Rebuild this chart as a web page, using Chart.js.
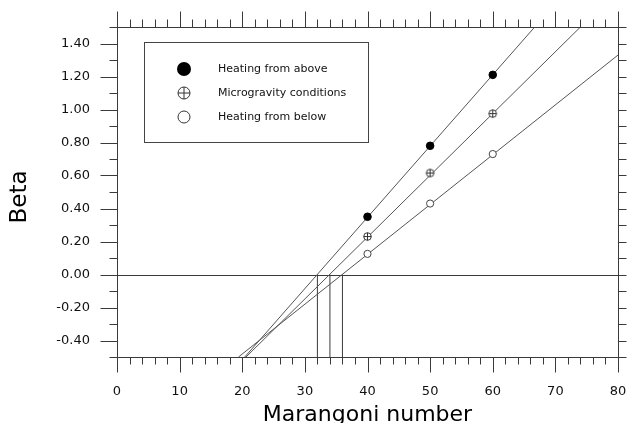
<!DOCTYPE html>
<html>
<head>
<meta charset="utf-8">
<script src="https://cdn.jsdelivr.net/npm/chart.js@4.4.0/dist/chart.umd.min.js"></script>
<style>
  html, body { margin: 0; padding: 0; background: #fff; }
</style>
</head>
<body>
<canvas id="betaChart" width="628" height="423"></canvas>
<script>
// --- data ---
const seriesNames = ['Heating from above', 'Microgravity conditions', 'Heating from below'];
const marangoni = [40, 50, 60];
const betaAbove = [0.35, 0.78, 1.21];
const betaMicro = [0.23, 0.615, 0.975];
const betaBelow = [0.125, 0.43, 0.73];

// straight-line fits, ends taken where they meet the frame
const fitAboveX = [20.4, 66.7];
const fitAboveY = [-0.5, 1.5];
const fitMicroX = [20.6, 74.0];
const fitMicroY = [-0.5, 1.5];
const fitBelowX = [19.4, 80];
const fitBelowY = [-0.5, 1.33];

// critical Marangoni numbers (beta = 0), dropped to the axis
const onsetX = [32, 34, 36];

const xTicks = [0, 10, 20, 30, 40, 50, 60, 70, 80];
const yTicks = [-0.4, -0.2, 0, 0.2, 0.4, 0.6, 0.8, 1.0, 1.2, 1.4];

const FONT = 'DejaVu Sans';
const INK = '#3a3a3a';
const LINE = '#555';

// point style: circle with a cross through it
function crossedCircle(r) {
  const c = document.createElement('canvas');
  const s = Math.ceil(r * 2 + 3);
  c.width = s; c.height = s;
  const g = c.getContext('2d');
  const m = s / 2;
  g.strokeStyle = '#333';
  g.lineWidth = 1;
  g.fillStyle = '#fff';
  g.beginPath(); g.arc(m, m, r, 0, Math.PI * 2); g.fill(); g.stroke();
  g.beginPath();
  g.moveTo(m - r, m); g.lineTo(m + r, m);
  g.moveTo(m, m - r); g.lineTo(m, m + r);
  g.stroke();
  return c;
}

const pts = (xs, ys) => xs.map((x, i) => ({ x: x, y: ys[i] }));

const markerStyles = [
  { pointStyle: 'circle', pointRadius: 3.8, pointBackgroundColor: '#000', pointBorderColor: '#000' },
  { pointStyle: crossedCircle(3.8), pointRadius: 4, pointBackgroundColor: '#fff', pointBorderColor: '#333' },
  { pointStyle: 'circle', pointRadius: 3.6, pointBackgroundColor: '#fff', pointBorderColor: '#444' }
];

const fitLine = (xs, ys) => ({
  data: pts(xs, ys),
  showLine: true,
  borderColor: LINE,
  borderWidth: 1,
  pointRadius: 0,
  order: 2
});

const datasets = [
  fitLine(fitAboveX, fitAboveY),
  fitLine(fitMicroX, fitMicroY),
  fitLine(fitBelowX, fitBelowY)
];
onsetX.forEach(x => {
  datasets.push({
    data: [{ x: x, y: -0.5 }, { x: x, y: 0 }],
    showLine: true,
    borderColor: INK,
    borderWidth: 1,
    pointRadius: 0,
    order: 2
  });
});
[betaAbove, betaMicro, betaBelow].forEach((ys, i) => {
  datasets.push(Object.assign({
    label: seriesNames[i],
    data: pts(marangoni, ys),
    showLine: false,
    pointBorderWidth: 1,
    order: 1
  }, markerStyles[i]));
});

// frame, tick marks, zero line, legend and axis titles
const framePlugin = {
  id: 'frame',
  beforeDatasetsDraw(chart) {
    const { ctx, chartArea: a, scales } = chart;
    const y0 = Math.round(scales.y.getPixelForValue(0)) + 0.5;
    ctx.save();
    ctx.strokeStyle = INK;
    ctx.lineWidth = 1;
    ctx.beginPath();
    ctx.moveTo(a.left, y0); ctx.lineTo(a.right + 8, y0);
    ctx.stroke();
    ctx.restore();
  },
  afterDraw(chart) {
    const { ctx, chartArea: a, scales } = chart;
    const L = Math.round(a.left) + 0.5, R = Math.round(a.right) + 0.5;
    const T = Math.round(a.top) + 0.5, B = Math.round(a.bottom) + 0.5;
    ctx.save();
    ctx.strokeStyle = INK;
    ctx.lineWidth = 1;
    ctx.beginPath();
    ctx.moveTo(L, T); ctx.lineTo(R, T); ctx.lineTo(R, B); ctx.lineTo(L, B); ctx.closePath();
    // x ticks, bottom (down) and top (up)
    for (let k = 0; k <= 40; k++) {
      const px = Math.round(scales.x.getPixelForValue(k * 2)) + 0.5;
      const major = k % 5 === 0;
      ctx.moveTo(px, B); ctx.lineTo(px, B + (major ? 15 : 7));
      ctx.moveTo(px, T); ctx.lineTo(px, T - (major ? 16 : 8));
    }
    // y ticks, left (out) and right (out)
    for (let k = -5; k <= 15; k++) {
      const py = Math.round(scales.y.getPixelForValue(k / 10)) + 0.5;
      const major = k % 2 === 0;
      ctx.moveTo(L, py); ctx.lineTo(L - (major ? 17 : 8), py);
      ctx.moveTo(R, py); ctx.lineTo(R + 8, py);
    }
    ctx.stroke();

    // legend
    ctx.strokeStyle = '#444';
    ctx.strokeRect(144.5, 42.5, 224, 100);
    const rowY = [69, 93, 117];
    ctx.font = '11px "' + FONT + '"';
    ctx.textBaseline = 'middle';
    ctx.textAlign = 'left';
    rowY.forEach((y, i) => {
      const cx = 184;
      ctx.beginPath();
      if (i === 0) {
        ctx.fillStyle = '#000';
        ctx.arc(cx, y, 7, 0, Math.PI * 2);
        ctx.fill();
      } else {
        ctx.strokeStyle = '#333';
        ctx.arc(cx, y, 6, 0, Math.PI * 2);
        if (i === 1) {
          ctx.moveTo(cx - 6, y); ctx.lineTo(cx + 6, y);
          ctx.moveTo(cx, y - 6); ctx.lineTo(cx, y + 6);
        }
        ctx.stroke();
      }
      ctx.fillStyle = '#111';
      ctx.fillText(seriesNames[i], 218, y + 0.5);
    });

    // axis titles
    ctx.fillStyle = '#000';
    ctx.textAlign = 'center';
    ctx.font = '22px "' + FONT + '"';
    ctx.textBaseline = 'alphabetic';
    ctx.fillText('Marangoni number', (a.left + a.right) / 2, 421);
    ctx.translate(20, 197);
    ctx.rotate(-Math.PI / 2);
    ctx.font = '23px "' + FONT + '"';
    ctx.textBaseline = 'middle';
    ctx.fillText('Beta', 0, 0);
    ctx.restore();
  }
};

// invisible tick marks: they only reserve the gap between axis and labels
const gap = len => ({ display: true, drawOnChartArea: false, drawTicks: true, tickLength: len, color: 'rgba(0,0,0,0)' });
const hidden = { display: false, drawTicks: false, tickLength: 0 };

new Chart(document.getElementById('betaChart'), {
  type: 'scatter',
  data: { datasets: datasets },
  options: {
    responsive: false,
    animation: false,
    layout: { padding: 0 },
    plugins: { legend: { display: false }, tooltip: { enabled: false } },
    scales: {
      x: {
        type: 'linear', position: 'bottom', min: 0, max: 80,
        grid: gap(27), border: { display: false },
        afterBuildTicks: s => { s.ticks = xTicks.map(v => ({ value: v })); },
        afterFit: s => { s.height = 66; },
        ticks: { autoSkip: false, maxRotation: 0, padding: 0, color: '#111', font: { family: FONT, size: 13 } }
      },
      x2: {
        type: 'linear', position: 'top', min: 0, max: 80,
        grid: hidden, border: { display: false },
        ticks: { display: false, padding: 0 },
        afterFit: s => { s.height = 27; }
      },
      y: {
        type: 'linear', position: 'left', min: -0.5, max: 1.5,
        grid: gap(27), border: { display: false },
        afterBuildTicks: s => { s.ticks = yTicks.map(v => ({ value: v })); },
        afterFit: s => { s.width = 117; },
        ticks: {
          autoSkip: false, padding: 0, color: '#111', font: { family: FONT, size: 13 },
          callback: v => v.toFixed(2)
        }
      },
      y2: {
        type: 'linear', position: 'right', min: -0.5, max: 1.5,
        grid: hidden, border: { display: false },
        ticks: { display: false, padding: 0 },
        afterFit: s => { s.width = 10; }
      }
    }
  },
  plugins: [framePlugin]
});
</script>
</body>
</html>
